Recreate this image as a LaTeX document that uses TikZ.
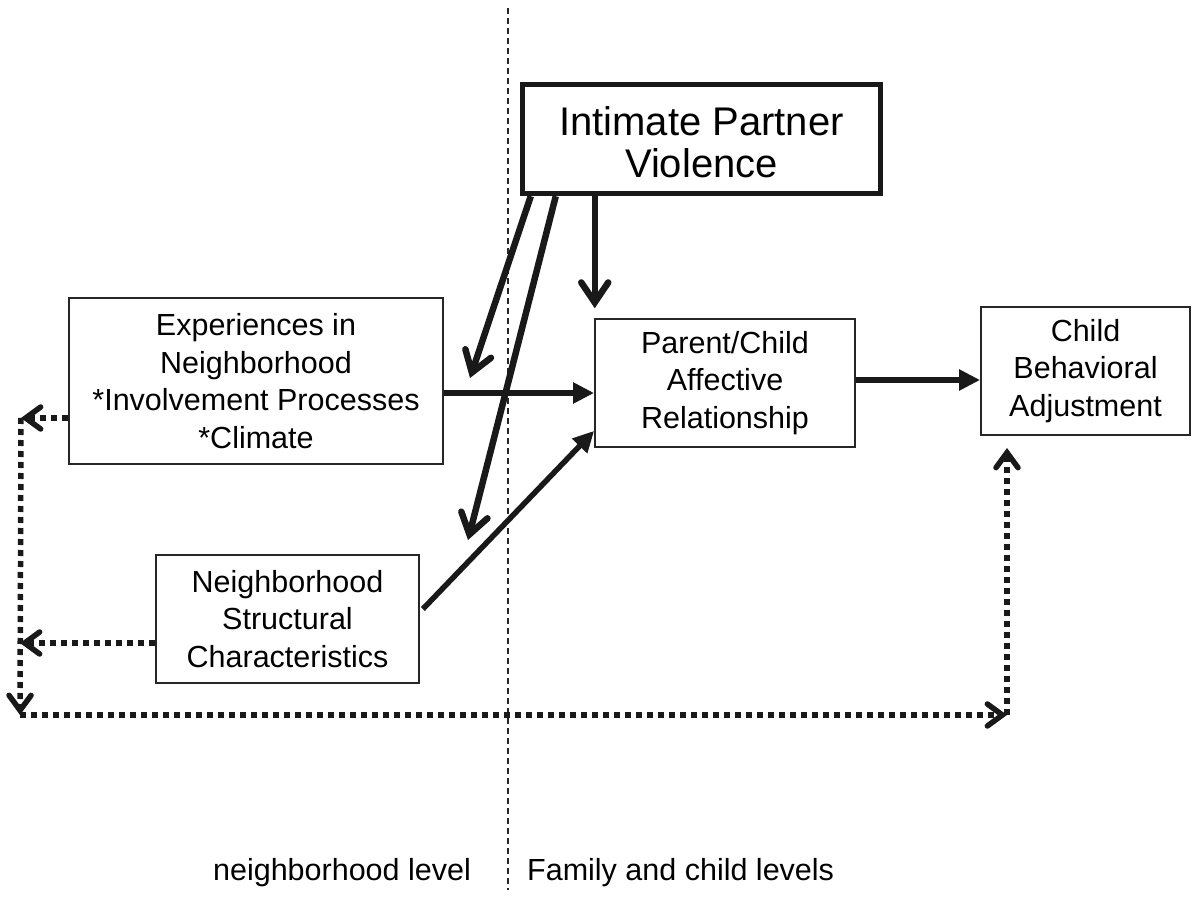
\documentclass[tikz,border=0pt]{standalone}
\usepackage{fontspec}
\setmainfont{Liberation Sans}
\usetikzlibrary{arrows.meta,calc}
\begin{document}
\begin{tikzpicture}[x=1pt,y=-1pt,
  box/.style={draw=black!85,line width=1.8pt,fill=white,inner sep=0pt,align=center,
    font=\fontsize{30.5}{37.5}\selectfont},
  bigbox/.style={draw=black!90,line width=5.5pt,inner sep=0pt,align=center,
    font=\fontsize{40}{42}\selectfont},
  solidbarb/.style={draw=black!90,line width=6.5pt,
    -{Straight Barb[length=20pt,width=27pt,line cap=round]}},
  solidtri/.style={draw=black!90,line width=5.5pt,
    -{Triangle[length=21pt,width=20pt]}},
  dotarrow/.style={draw=black!90,line width=5.5pt,dash pattern=on 6pt off 5pt,
    -{Straight Barb[length=15pt,width=22pt,line cap=round]}},
  lvl/.style={font=\fontsize{30.5}{34}\selectfont,inner sep=0pt}
]
\useasboundingbox (0,0) rectangle (1200,901);
\fill[white] (0,0) rectangle (1200,901);

% level divider
\draw[black!85,line width=1.5pt,dash pattern=on 6pt off 4pt] (508,8) coordinate (dtop) -- (508,890) coordinate (dbot);

% nodes
\node[bigbox,minimum width=358pt,minimum height=109pt] (ipv) at (701.5,139) {\rule{0pt}{35pt}Intimate Partner\\Violence};
\node[box,minimum width=374pt,minimum height=166pt] (exp) at (256,381) {Experiences in\\Neighborhood\\*Involvement Processes\\*Climate};
\node[box,minimum width=260pt,minimum height=128pt] (pc) at (725,383) {Parent/Child\\Affective\\Relationship};
\node[box,minimum width=209pt,minimum height=128pt] (cb) at (1085.5,371) {Child\\Behavioral\\Adjustment};
\node[box,minimum width=263pt,minimum height=128pt] (ns) at (287.5,619) {Neighborhood\\Structural\\Characteristics};

\node[lvl] (nl) at (342,873) {neighborhood level};
\node[lvl,anchor=west] (fl) at (527,873) {Family and child levels};

% coordinates
\coordinate (i1) at ($(ipv.south west)+(11,0)$);
\coordinate (i2) at ($(ipv.south west)+(36,0)$);
\coordinate (i3) at ($(ipv.south west)+(75,0)$);
\coordinate (e1) at (470,378);
\coordinate (e2) at (468,540);
\coordinate (e3) at ($(i3)+(0,112)$);
\coordinate (L1) at (21,418);
\coordinate (L2) at (20,643);
\coordinate (LB) at (20,715);
\coordinate (RB) at (1007,715);
\coordinate (CB) at (1007,448);

% IPV arrows
\draw[solidbarb] (i1) -- (e1);
\draw[solidbarb] (i2) -- (e2);
\draw[solidbarb] (i3) -- (e3);

% main arrows
\draw[solidtri] (exp.east |- 0,393) -- (pc.west |- 0,393);
\draw[solidtri] ($(ns.east)+(3,-10)$) -- ($(pc.south west)+(0,-17)$);
\draw[solidtri] (pc.east |- 0,380) -- (cb.west |- 0,380);

% dotted arrows
\draw[dotarrow] (exp.west |- L1) -- (L1);
\draw[dotarrow] (ns.west |- L2) -- (L2);
\draw[dotarrow] (L1) -- (LB);
\draw[dotarrow] (LB) -- (RB);
\draw[dotarrow] (RB) -- (CB);
\end{tikzpicture}
\end{document}
